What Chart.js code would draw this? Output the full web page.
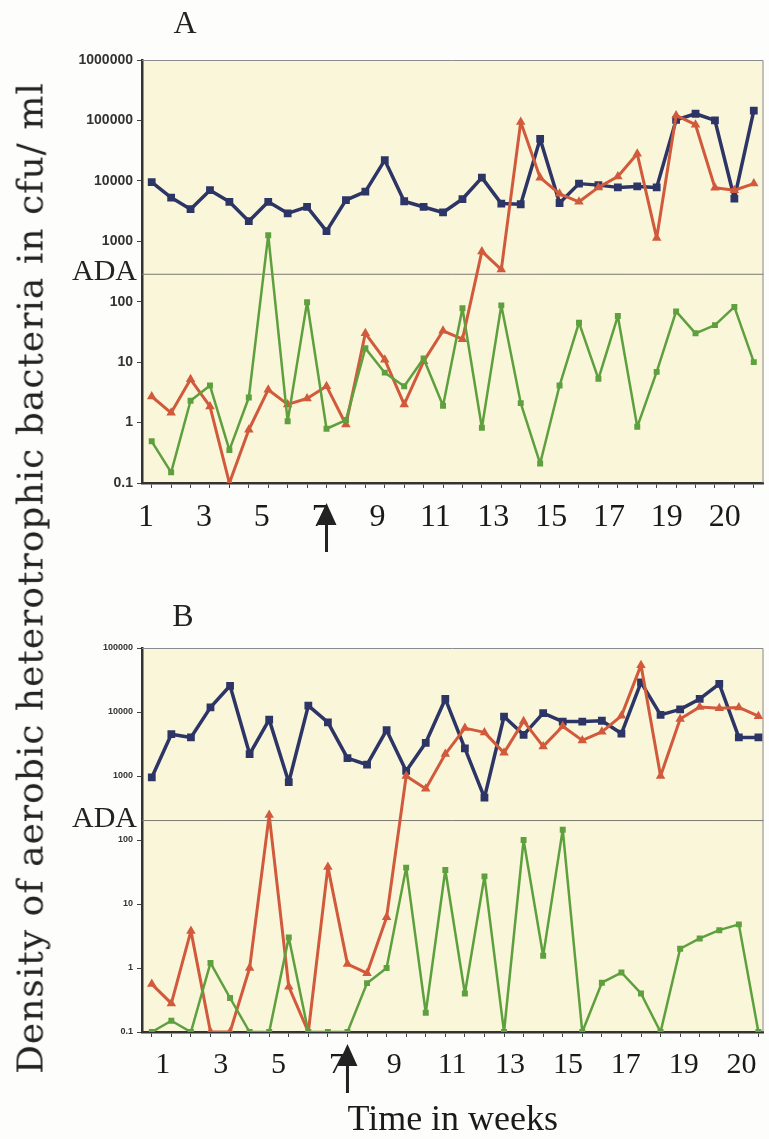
<!DOCTYPE html>
<html lang="en">
<head>
    <meta charset="utf-8">
    <title>Aerobic heterotrophic bacteria</title>
    <script src="https://cdn.jsdelivr.net/npm/chart.js@4.4.1/dist/chart.umd.min.js"></script>
    <style>
        body { margin: 0; background: #fdfdfc; }
        .wrap { position: relative; width: 769px; height: 1139px; overflow: hidden; }
        .panel { position: absolute; left: 0; width: 769px; }
        #ytitle {
            position: absolute; left: 30px; top: 578px;
            transform: translate(-50%, -50%) rotate(-90deg);
            white-space: nowrap; font: 36px "DejaVu Serif", serif; letter-spacing: 1px; color: #222;
        }
    </style>
</head>
<body>
<div class="wrap">
    <div class="panel" style="top:0;height:565px"><canvas id="chartA"></canvas></div>
    <div class="panel" style="top:565px;height:574px"><canvas id="chartB"></canvas></div>
    <div id="ytitle">Density of aerobic heterotrophic bacteria in cfu/ ml</div>
</div>
<script>
// sample number (32 samplings), week labels as printed under the axis
var samples = [1,2,3,4,5,6,7,8,9,10,11,12,13,14,15,16,17,18,19,20,21,22,23,24,25,26,27,28,29,30,31,32];
var weekLabels = ['1','3','5','7','9','11','13','15','17','19','20'];

var ticksA = [1000000, 100000, 10000, 1000, 100, 10, 1, 0.1];
var tickLabelsA = ['1000000', '100000', '10000', '1000', '100', '10', '1', '0.1'];
var ticksB = [100000, 10000, 1000, 100, 10, 1, 0.1];
var tickLabelsB = ['100000', '10000', '1000', '100', '10', '1', '0.1'];

var adaA = 290;
var adaB = 205;
var arrowA = 10;   // sample where the arrow points
var arrowB = 11;

// panel A
var blueA = [9500, 5300, 3400, 7000, 4500, 2150, 4500, 2900, 3700, 1470, 4800, 6650, 22000, 4600, 3700, 3000,
             5000, 11300, 4200, 4100, 49500, 4300, 9000, 8500, 7800, 8100, 7800, 102000, 129000, 100000, 5100, 145000];
var redA = [2.7, 1.45, 5.2, 1.85, 0.1, 0.76, 3.5, 2.0, 2.5, 4.0, 0.93, 30, 11, 2.0, 10.3, 33,
            24, 680, 340, 94000, 11300, 6100, 4500, 7800, 11800, 28000, 1130, 121000, 85000, 7700, 7000, 9000];
var greenA = [0.49, 0.15, 2.3, 4.1, 0.35, 2.6, 1260, 1.05, 98, 0.79, 1.1, 17, 6.7, 4.0, 11.5, 1.9,
              78, 0.82, 87, 2.1, 0.21, 4.1, 45, 5.3, 58, 0.85, 6.9, 69, 30, 41, 82, 10];

// panel B
var blueB = [950, 4500, 4000, 11800, 25700, 2200, 7600, 800, 12600, 6900, 1900, 1500, 5200, 1200, 3300, 16000,
             2700, 460, 8500, 4400, 9600, 7100, 7100, 7300, 4600, 29000, 9000, 11000, 16000, 27500, 4000, 4000];
var redB = [0.56, 0.28, 3.8, 0.1, 0.1, 1.0, 245, 0.51, 0.1, 38, 1.15, 0.83, 6.2, 1000, 630, 2200,
            5600, 4800, 2300, 7200, 2900, 6000, 3600, 4900, 8700, 54000, 1000, 7800, 12000, 11400, 11800, 8600];
var greenB = [0.1, 0.15, 0.1, 1.2, 0.34, 0.1, 0.1, 3.0, 0.1, 0.1, 0.1, 0.58, 1.0, 37, 0.2, 34,
              0.4, 27, 0.1, 100, 1.55, 145, 0.1, 0.59, 0.85, 0.4, 0.1, 2.0, 2.9, 3.9, 4.8, 0.1];

var BLUE = '#2c3565', RED = '#d25a3c', GREEN = '#5e9f3e';

function pts(vals) {
    return vals.map(function (v, i) { return { x: samples[i], y: v }; });
}

function sets(blue, red, green) {
    return [
        { data: pts(green), borderColor: GREEN, backgroundColor: GREEN, borderWidth: 2.5, borderJoinStyle: 'round',
          pointStyle: 'rect', pointRadius: 4.2, pointBorderWidth: 0 },
        { data: pts(red), borderColor: RED, backgroundColor: RED, borderWidth: 3, borderJoinStyle: 'round',
          pointStyle: 'triangle', pointRadius: 5.5, pointBorderWidth: 0 },
        { data: pts(blue), borderColor: BLUE, backgroundColor: BLUE, borderWidth: 3.5, borderJoinStyle: 'round',
          pointStyle: 'rect', pointRadius: 5.5, pointBorderWidth: 0 }
    ];
}

var decor = {
    id: 'decor',
    beforeDraw: function (chart, args, o) {
        var c = chart.ctx, a = chart.chartArea;
        c.save();
        c.fillStyle = '#f9f6da';
        c.fillRect(a.left, a.top, a.right - a.left, a.bottom - a.top);
        c.restore();
    },
    beforeDatasetsDraw: function (chart, args, o) {
        var c = chart.ctx, a = chart.chartArea;
        var y = chart.scales.y.getPixelForValue(o.ada);
        c.save();
        c.strokeStyle = '#7a7a70';
        c.lineWidth = 1;
        c.beginPath();
        c.moveTo(a.left, y + 0.5);
        c.lineTo(a.right, y + 0.5);
        c.stroke();
        // top + right frame
        c.strokeStyle = '#8a8a90';
        c.beginPath();
        c.moveTo(a.left, a.top + 0.5);
        c.lineTo(a.right - 0.5, a.top + 0.5);
        c.lineTo(a.right - 0.5, a.bottom);
        c.stroke();
        c.fillStyle = '#222';
        c.font = '30px "Liberation Serif"';
        c.textAlign = 'right';
        c.textBaseline = 'alphabetic';
        c.fillText('ADA', a.left - 5, y + o.adaShift);
        c.textAlign = 'center';
        c.font = '32px "Liberation Serif"';
        c.fillText(o.letter, a.left + o.letterDx, o.letterY);
        // arrow
        var x = chart.scales.x.getPixelForValue(o.arrow) + o.arrowDx;
        var tip = a.bottom + o.arrowTip;
        c.beginPath();
        c.moveTo(x, tip);
        c.lineTo(x - 10, tip + 22);
        c.lineTo(x + 10, tip + 22);
        c.closePath();
        c.fill();
        c.fillRect(x - 1.5, tip + 20, 3, 29);
        c.restore();
    }
};

function makeChart(id, blue, red, green, yMax, ticks, tickLabels, tickFont, wMin, wMax, o, pad, xwHeight, withTitle) {
    return new Chart(document.getElementById(id), {
        type: 'line',
        data: { datasets: sets(blue, red, green) },
        plugins: [decor],
        options: {
            responsive: true,
            maintainAspectRatio: false,
            animation: false,
            layout: { padding: pad },
            plugins: { legend: { display: false }, tooltip: { enabled: false }, decor: o },
            scales: {
                x: {
                    type: 'linear', min: 0.5, max: o.xMax, weight: 0,
                    afterBuildTicks: function (s) { s.ticks = samples.map(function (v) { return { value: v }; }); },
                    afterFit: function (s) { s.height = 6; },
                    ticks: { display: false },
                    grid: { drawOnChartArea: false, drawTicks: true, tickLength: 5, color: '#444', lineWidth: 1 },
                    border: { display: true, color: '#333', width: 2.5 }
                },
                xw: {
                    type: 'linear', position: 'bottom', min: wMin, max: wMax, weight: 1,
                    afterBuildTicks: function (s) { s.ticks = weekLabels.map(function (l, j) { return { value: j }; }); },
                    afterFit: function (s) { s.height = xwHeight; },
                    grid: { display: false, drawTicks: false },
                    border: { display: false },
                    ticks: {
                        autoSkip: false, maxRotation: 0, padding: o.labelPad, color: '#1a1a1a',
                        font: { family: 'Liberation Serif', size: o.labelSize },
                        callback: function (v) { return weekLabels[v]; }
                    },
                    title: {
                        display: withTitle, text: 'Time in weeks', color: '#1a1a1a',
                        font: { family: 'Liberation Serif', size: 36, lineHeight: 1 },
                        padding: { top: 0, bottom: 0 }
                    }
                },
                y: {
                    type: 'logarithmic', min: 0.1, max: yMax,
                    afterBuildTicks: function (s) { s.ticks = ticks.map(function (v) { return { value: v }; }); },
                    afterFit: function (s) { s.width = 142; },
                    grid: { drawOnChartArea: false, drawTicks: true, tickLength: 5, color: '#444' },
                    border: { display: true, color: '#333', width: 2.5 },
                    ticks: {
                        padding: 4, color: '#333',
                        font: { family: 'Liberation Sans', size: tickFont, weight: 'bold' },
                        callback: function (v) { return tickLabels[ticks.indexOf(v)]; }
                    }
                }
            }
        }
    });
}

makeChart('chartA', blueA, redA, greenA, 1000000, ticksA, tickLabelsA, 14, -0.07, 10.67,
    { ada: adaA, adaShift: 6, letter: 'A', letterDx: 43, letterY: 33, arrow: arrowA, arrowDx: 0, arrowTip: 20,
      xMax: 32.5, labelPad: 9, labelSize: 32 },
    { top: 60, right: 2, left: 0, bottom: 0 }, 76, false);

makeChart('chartB', blueB, redB, greenB, 100000, ticksB, tickLabelsB, 9, -0.36, 10.38,
    { ada: adaB, adaShift: 7, letter: 'B', letterDx: 41, letterY: 61, arrow: arrowB, arrowDx: 0, arrowTip: 12,
      xMax: 32.26, labelPad: 9, labelSize: 30 },
    { top: 83, right: 0, left: 0, bottom: 0 }, 101, true);
</script>
</body>
</html>
